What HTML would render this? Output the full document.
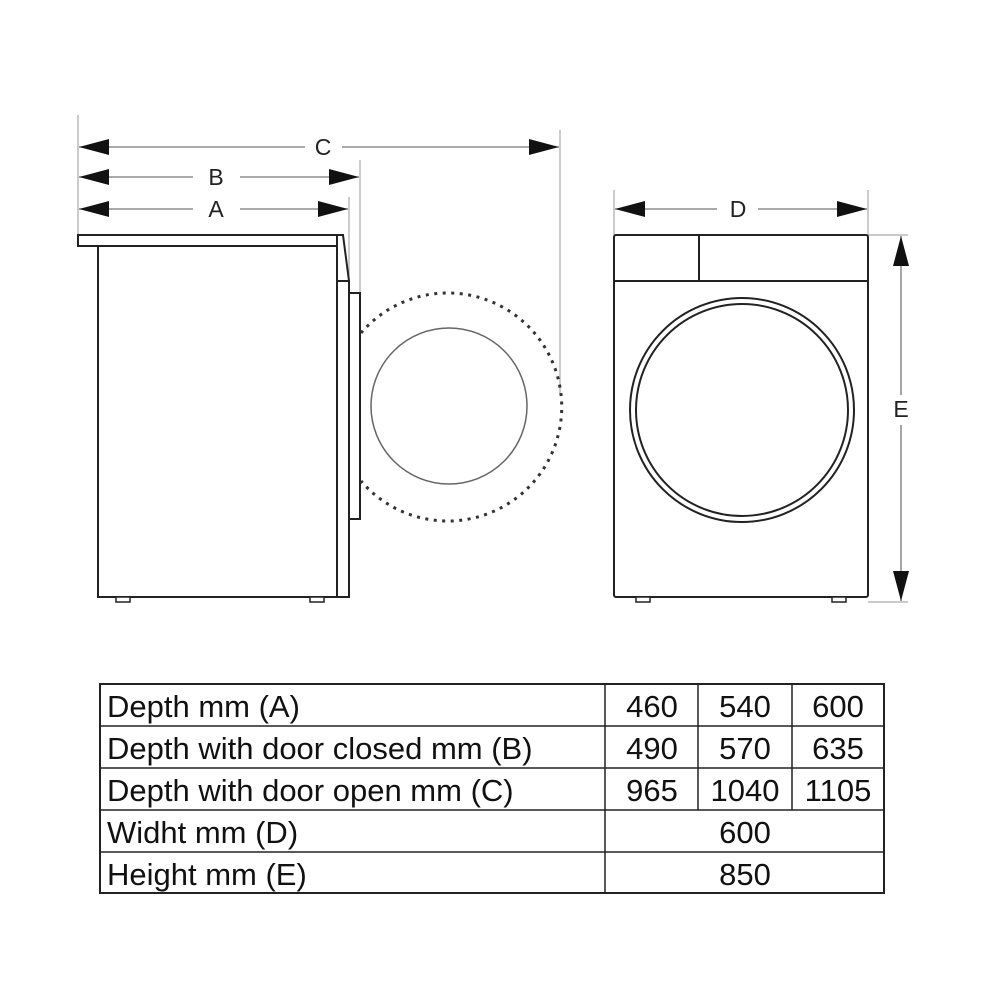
<!DOCTYPE html>
<html><head><meta charset="utf-8"><style>html,body{margin:0;padding:0;background:#fff}svg{display:block}</style></head>
<body>
<svg width="1000" height="1000" viewBox="0 0 1000 1000" xmlns="http://www.w3.org/2000/svg" font-family="Liberation Sans, Arial, sans-serif">
<defs>
<marker id="ar" viewBox="0 0 30 16" refX="30" refY="8" markerWidth="30" markerHeight="16" markerUnits="userSpaceOnUse" orient="auto-start-reverse"><path d="M0,0 L30,8 L0,16 Z" fill="#111"/></marker>
</defs>
<g stroke="#aaa" stroke-width="1.2" fill="none">
<line x1="78" y1="115" x2="78" y2="236"/>
<line x1="349" y1="197" x2="349" y2="281"/>
<line x1="360" y1="160" x2="360" y2="293"/>
<line x1="560" y1="130" x2="560" y2="395"/>
<line x1="614" y1="190" x2="614" y2="236"/>
<line x1="868" y1="190" x2="868" y2="236"/>
<line x1="868" y1="235" x2="908" y2="235"/>
<line x1="868" y1="602" x2="908" y2="602"/>
</g>
<g stroke="#777" stroke-width="1.3" fill="none">
<line x1="79" y1="147" x2="305" y2="147" marker-start="url(#ar)"/>
<line x1="342" y1="147" x2="559" y2="147" marker-end="url(#ar)"/>
<line x1="79" y1="177" x2="193" y2="177" marker-start="url(#ar)"/>
<line x1="240" y1="177" x2="359" y2="177" marker-end="url(#ar)"/>
<line x1="79" y1="209" x2="193" y2="209" marker-start="url(#ar)"/>
<line x1="240" y1="209" x2="348" y2="209" marker-end="url(#ar)"/>
<line x1="615" y1="209" x2="717" y2="209" marker-start="url(#ar)"/>
<line x1="758" y1="209" x2="867" y2="209" marker-end="url(#ar)"/>
<line x1="901" y1="236" x2="901" y2="395" marker-start="url(#ar)"/>
<line x1="901" y1="425" x2="901" y2="601" marker-end="url(#ar)"/>
</g>
<g font-size="23" fill="#222" text-anchor="middle">
<text x="323" y="155">C</text>
<text x="216" y="185">B</text>
<text x="216" y="217">A</text>
<text x="738" y="217">D</text>
<text x="901" y="417">E</text>
</g>
<g stroke="#222" stroke-width="2" fill="#fff">
<rect x="78" y="235" width="265" height="11"/>
<rect x="98" y="246" width="239" height="351"/>
<path d="M337,235 L343,235 L349,281 L337,281 Z"/>
<rect x="337" y="281" width="12" height="316"/>
<rect x="349" y="293" width="11" height="226"/>
<rect x="116" y="597" width="14" height="5" stroke-width="1.5"/>
<rect x="310" y="597" width="14" height="5" stroke-width="1.5"/>
</g>
<path d="M361,333 A114,114 0 1,1 361,481" fill="none" stroke="#333" stroke-width="3" stroke-dasharray="3,5.5"/>
<circle cx="449" cy="406" r="78" fill="none" stroke="#666" stroke-width="1.5"/>
<g stroke="#222" stroke-width="2" fill="#fff">
<rect x="614" y="235" width="254" height="362" rx="2"/>
<line x1="614" y1="281" x2="868" y2="281"/>
<line x1="699" y1="235" x2="699" y2="281"/>
<circle cx="742" cy="410" r="112"/>
<circle cx="742" cy="410" r="106"/>
<rect x="636" y="597" width="14" height="5" stroke-width="1.5"/>
<rect x="832" y="597" width="14" height="5" stroke-width="1.5"/>
</g>
<g stroke="#222" stroke-width="1.5" fill="none">
<rect x="100" y="684" width="784" height="209" stroke-width="2"/>
<line x1="100" y1="726" x2="884" y2="726"/>
<line x1="100" y1="768" x2="884" y2="768"/>
<line x1="100" y1="810" x2="884" y2="810"/>
<line x1="100" y1="852" x2="884" y2="852"/>
<line x1="605" y1="684" x2="605" y2="893"/>
<line x1="698" y1="684" x2="698" y2="810"/>
<line x1="792" y1="684" x2="792" y2="810"/>
</g>
<g font-size="31" fill="#111">
<text x="107" y="717">Depth mm (A)</text>
<text x="107" y="759">Depth with door closed mm (B)</text>
<text x="107" y="801">Depth with door open mm (C)</text>
<text x="107" y="843">Widht mm (D)</text>
<text x="107" y="885">Height mm (E)</text>
</g>
<g font-size="31" fill="#111" text-anchor="middle">
<text x="652" y="717">460</text><text x="745" y="717">540</text><text x="838" y="717">600</text>
<text x="652" y="759">490</text><text x="745" y="759">570</text><text x="838" y="759">635</text>
<text x="652" y="801">965</text><text x="745" y="801">1040</text><text x="838" y="801">1105</text>
<text x="745" y="843">600</text>
<text x="745" y="885">850</text>
</g>
</svg>
</body></html>
